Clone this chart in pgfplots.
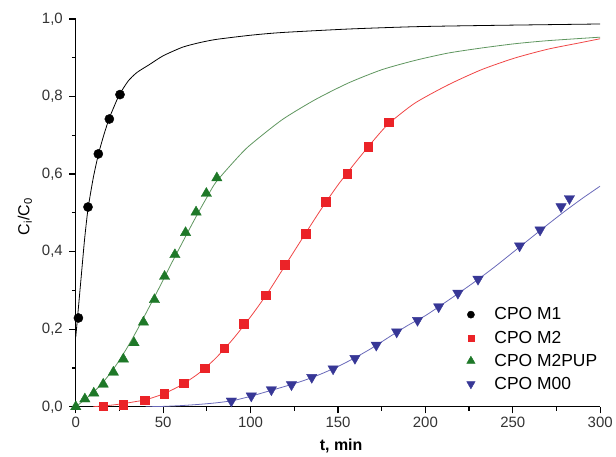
\documentclass[border=0pt]{standalone}
\usepackage{pgfplots}
\pgfplotsset{compat=1.18}
\usepackage{fontspec}
\setmainfont{Liberation Sans}
\definecolor{mredm}{RGB}{235,35,40}
\definecolor{mredl}{RGB}{240,70,70}
\definecolor{mgrm}{RGB}{30,120,40}
\definecolor{mgrl}{RGB}{95,150,95}
\definecolor{mblm}{RGB}{55,55,150}
\definecolor{mbll}{RGB}{105,105,185}
\begin{document}
\begin{tikzpicture}
\begin{axis}[
  width=526pt, height=389pt, scale only axis,
  xmin=0, xmax=300, ymin=0, ymax=1,
  axis lines=left,
  axis line style={-, line width=1.4pt, black},
  xtick={0,50,...,300}, ytick={0,0.2,...,1.0},
  minor x tick num=1, minor y tick num=1,
  tick align=outside,
  major tick length=6.5pt, minor tick length=4pt,
  every tick/.style={black, line width=1.2pt},
  /pgf/number format/assume math mode=true,
  yticklabel style={xshift=-3pt, /pgf/number format/.cd, use comma, fixed, fixed zerofill, precision=1},
  ticklabel style={font=\fontsize{15}{17}\selectfont, text=black!80},
  xlabel={\textbf{t, min}},
  xlabel style={at={(axis description cs:0.506,-0.100)}, anchor=center, font=\fontsize{16}{18}\selectfont},
  ylabel={C\textsubscript{i}/C\textsubscript{0}},
  ylabel style={at={(axis description cs:-0.097,0.49)}, anchor=center, font=\fontsize{16}{18}\selectfont},
  legend style={at={(axis description cs:0.7395,0.266)}, anchor=north west, draw=none, fill=none,
    font=\fontsize{17.5}{19}\selectfont, row sep=5.5pt},
  legend cell align=left,
  legend image code/.code={\path[draw=none,fill=none] (0cm,0cm) -- (0.86cm,0cm); \draw[#1] plot coordinates {(0.1cm,0cm)};},
]
% fitted curves
\addplot[black, line width=0.8pt, smooth, tension=0.4, forget plot] coordinates {
(0,0.18) (1,0.23) (3,0.33) (5,0.43) (7,0.51) (10,0.59) (13,0.652) (16,0.70) (19,0.742) (22,0.775) (25,0.805) (30,0.84) (35,0.862) (42,0.882) (50,0.905) (61,0.927) (70,0.938) (80,0.947) (100,0.958) (118,0.965) (156,0.974) (194,0.98) (232,0.983) (300,0.987)};
\addplot[mredl, line width=0.8pt, smooth, tension=0.4, forget plot] coordinates {
(10,0) (15,0.002) (20,0.004) (27,0.008) (35,0.014) (40,0.018) (50,0.033) (60,0.055) (70,0.085) (80,0.125) (90,0.175) (100,0.232) (110,0.295) (120,0.366) (130,0.437) (140,0.507) (150,0.572) (160,0.63) (170,0.685) (179,0.73) (194,0.783) (213,0.83) (232,0.869) (251,0.899) (270,0.922) (289,0.939) (300,0.949)};
\addplot[mgrl, line width=0.8pt, smooth, tension=0.4, forget plot] coordinates {
(0,0) (5,0.018) (10,0.037) (15,0.06) (20,0.088) (25,0.12) (30,0.157) (35,0.197) (40,0.24) (45,0.283) (50,0.327) (55,0.372) (60,0.415) (65,0.458) (70,0.5) (75,0.54) (80,0.578) (90,0.63) (99,0.672) (118,0.74) (137,0.792) (156,0.835) (175,0.869) (194,0.893) (213,0.912) (232,0.925) (251,0.936) (270,0.944) (300,0.953)};
\addplot[mbll, line width=0.8pt, smooth, tension=0.4, forget plot] coordinates {
(40,0) (50,0.001) (60,0.003) (70,0.006) (80,0.01) (90,0.016) (100,0.027) (110,0.04) (120,0.053) (130,0.067) (140,0.084) (150,0.104) (160,0.127) (170,0.153) (180,0.182) (190,0.21) (200,0.235) (210,0.265) (220,0.296) (230,0.328) (240,0.362) (250,0.398) (260,0.434) (270,0.47) (280,0.505) (290,0.538) (300,0.569)};
% measured points
\addplot[only marks, mark=*, mark size=4.6pt, black, forget plot] coordinates {
(1.5,0.229) (7,0.515) (12.9,0.652) (19.2,0.742) (25.3,0.805)};
\addplot[only marks, mark=square*, mark size=4.3pt, mredm, mark options={draw=mredm, fill=mredm}, forget plot] coordinates {
(15.7,0.002) (27.2,0.006) (39.3,0.017) (50.6,0.034) (61.7,0.061) (73.6,0.099) (84.9,0.151) (96,0.214) (108.5,0.288) (119.5,0.366) (131.5,0.447) (143,0.529) (155.3,0.601) (167.3,0.671) (179.1,0.734)};
\addplot[only marks, mark=triangle*, mark size=6pt, mgrm, mark options={draw=mgrm, fill=mgrm}, forget plot] coordinates {
(0,0) (5.2,0.02) (10.3,0.035) (15.7,0.058) (21.5,0.089) (27.2,0.123) (33.3,0.165) (38.7,0.218) (45,0.276) (50.8,0.336) (56.7,0.392) (62.8,0.449) (68.8,0.502) (74.7,0.55) (80.7,0.59)};
\addplot[only marks, mark=triangle*, mark size=6pt, mblm, mark options={draw=mblm, fill=mblm, rotate=180}, forget plot] coordinates {
(89,0.015) (100.4,0.028) (111.9,0.044) (123.4,0.057) (135,0.076) (147.2,0.098) (159.7,0.125) (171.9,0.159) (183.6,0.193) (195.5,0.223) (207.6,0.258) (218.6,0.293) (230.1,0.329) (253.9,0.415) (265.6,0.456) (277.6,0.516) (282.4,0.537)};
% legend
\addlegendimage{only marks, mark=*, mark size=3.6pt, black}
\addlegendentry{CPO M1}
\addlegendimage{only marks, mark=square*, mark size=3pt, mredm, mark options={draw=mredm, fill=mredm}}
\addlegendentry{CPO M2}
\addlegendimage{only marks, mark=triangle*, mark size=4.8pt, mgrm, mark options={draw=mgrm, fill=mgrm}}
\addlegendentry{CPO M2PUP}
\addlegendimage{only marks, mark=triangle*, mark size=4.8pt, mblm, mark options={draw=mblm, fill=mblm, rotate=180}}
\addlegendentry{CPO M00}
\end{axis}
\path (-76pt,-50pt) rectangle (540pt,408pt);
\end{tikzpicture}
\end{document}
